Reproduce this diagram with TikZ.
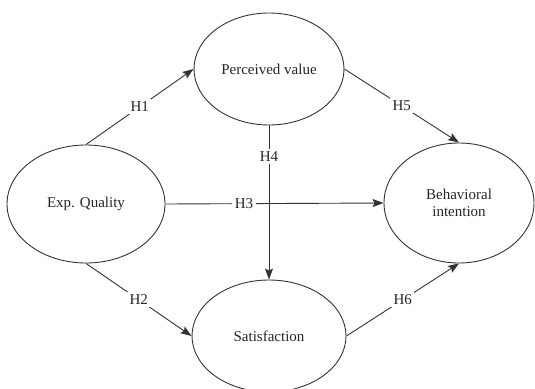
\documentclass[tikz,border=0pt]{standalone}
\usepackage{fontspec}
\setmainfont{Liberation Serif}
\usetikzlibrary{shapes.geometric,arrows.meta}
\begin{document}
\begin{tikzpicture}[x=1pt,y=-1pt,
  construct/.style={ellipse,draw=black!80,line width=0.9pt,inner sep=0pt,font=\fontsize{15}{17}\selectfont,text=black!85,align=center},
  link/.style={draw=black!80,line width=0.9pt,-{Stealth[length=11pt,width=8pt,inset=2pt]}},
  lbl/.style={fill=white,inner sep=2.5pt,font=\fontsize{15}{17}\selectfont,text=black!85}]
\useasboundingbox (0,0) rectangle (535,388);
\begin{scope}
\clip (0,0) rectangle (535,388);
\node[construct,minimum width=158pt,minimum height=118pt] (eq) at (86,204) {Exp. Quality};
\node[construct,minimum width=150pt,minimum height=112pt] (pv) at (269,69) {Perceived value};
\node[construct,minimum width=150pt,minimum height=120pt] (bi) at (459,203) {Behavioral\\intention};
\node[construct,minimum width=154pt,minimum height=112pt] (sa) at (269,336) {Satisfaction};
\draw[link] (eq.north) -- node[lbl] {H1} (pv.west);
\draw[link] (eq.south) -- node[lbl] {H2} (sa.west);
\draw[link] (pv.south) -- node[lbl,pos=0.2] {H4} (sa.north);
\draw[link] (eq.east) -- node[lbl,pos=0.36,inner ysep=0pt] {H3} (bi.west);
\draw[link] (pv.east) -- node[lbl] {H5} (bi.north);
\draw[link] (sa.east) -- node[lbl] {H6} (bi.south);
\end{scope}
\end{tikzpicture}
\end{document}
